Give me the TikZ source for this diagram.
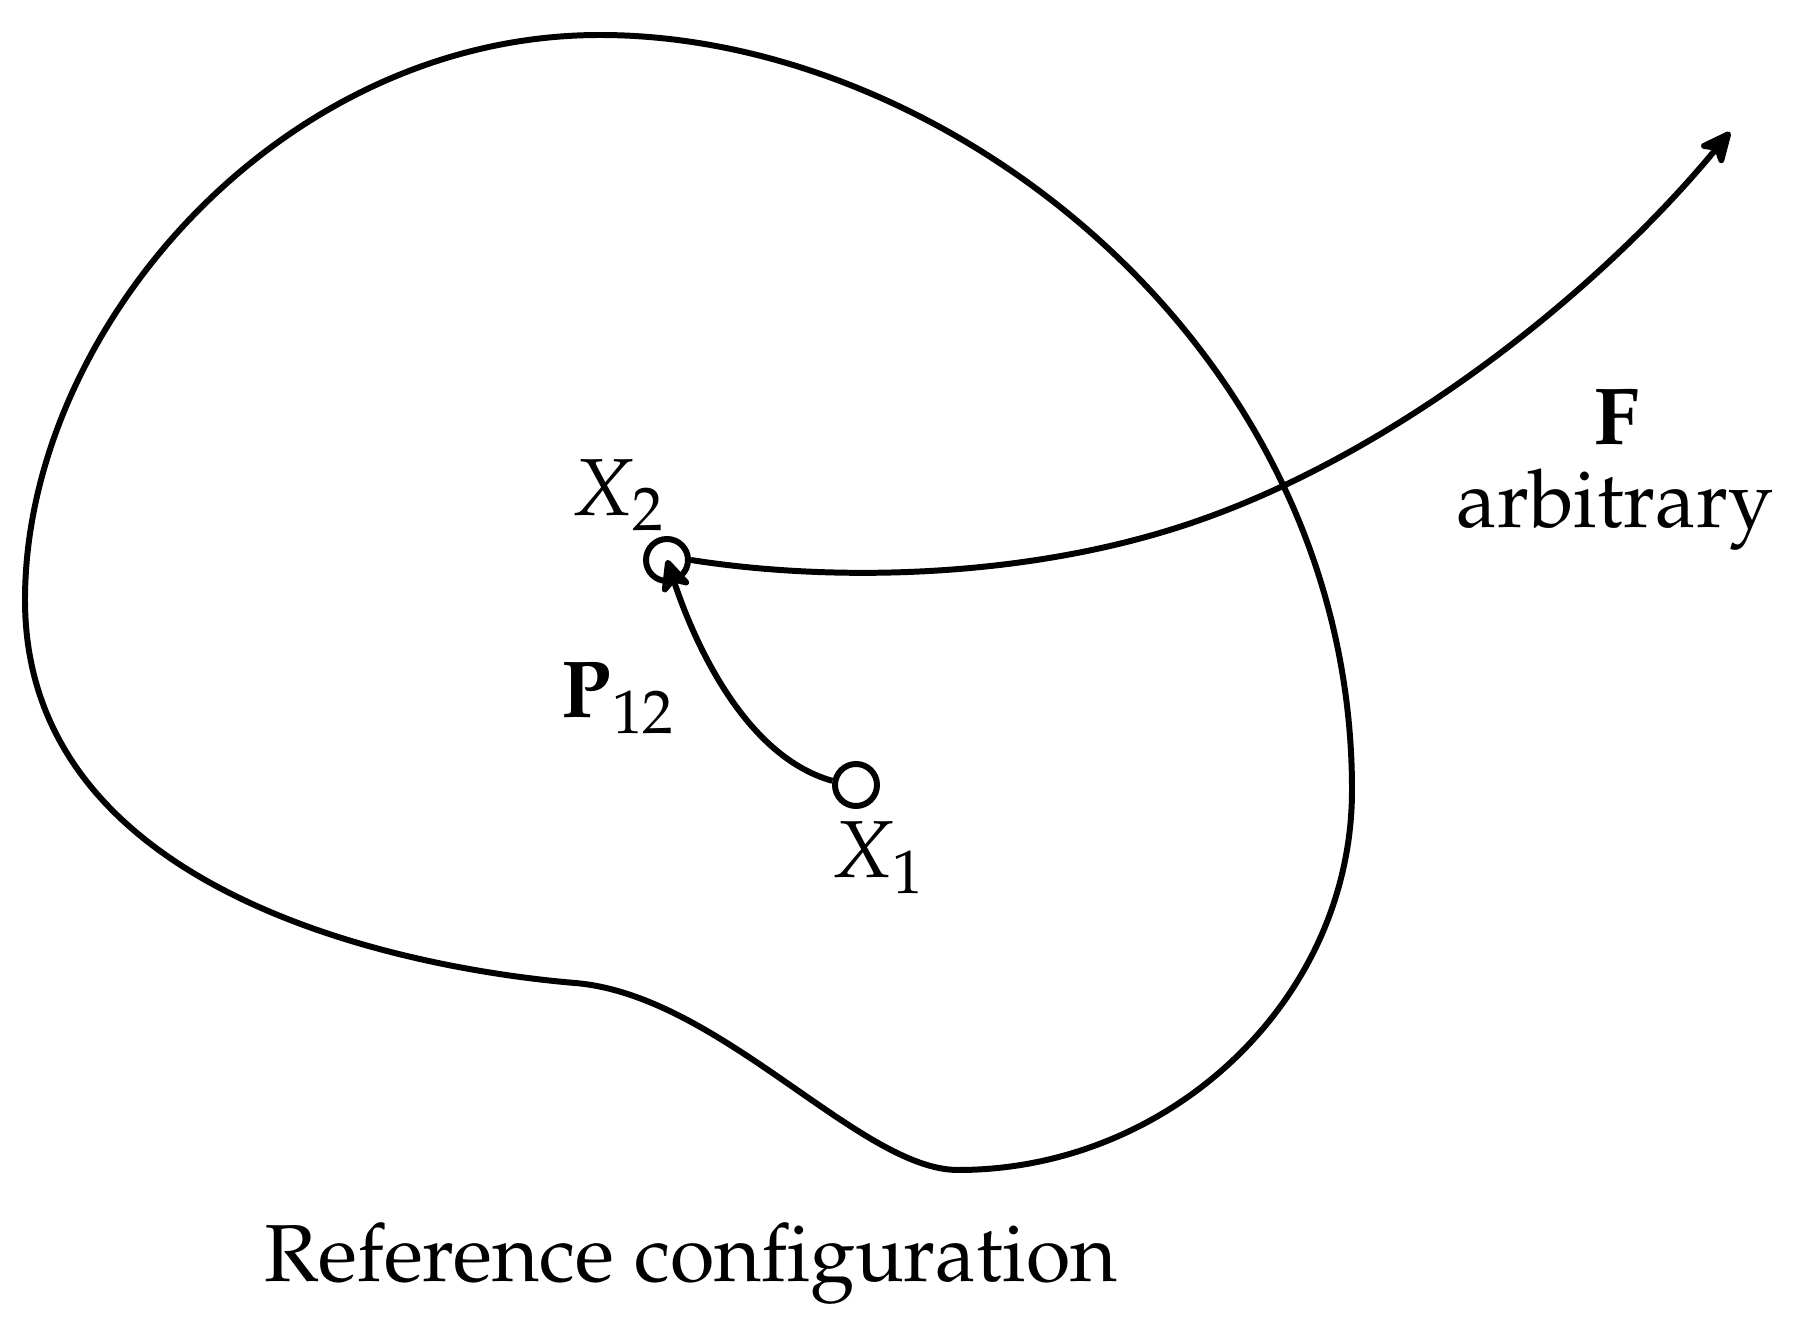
\documentclass[tikz,border=0pt]{standalone}
\usepackage[T1]{fontenc}
\usepackage{mathpazo}
\usepackage{tikz}
\usetikzlibrary{arrows.meta,positioning}

\begin{document}
\begin{tikzpicture}[x=0.01cm,y=-0.01cm,
  line width=1.7pt,
  pt/.style={circle,draw,line width=1.7pt,minimum size=0.42cm,inner sep=0pt},
  lbl/.style={font=\fontsize{23}{28}\selectfont,inner sep=0pt,anchor=base},
  arr/.style={-{Stealth[round,length=11pt,width=10pt,inset=3pt]}}]
\useasboundingbox (0,0) rectangle (1811,1325);
% body outline
\draw (25,600) .. controls (25,330) and (280,35) .. (600,35)
  .. controls (950,35) and (1352,350) .. (1352,790)
  .. controls (1352,1000) and (1170,1170) .. (958,1170)
  .. controls (860,1170) and (720,995) .. (575,983)
  .. controls (420,970) and (25,900) .. cycle;
% material points
\node[pt] (x2) at (667,560) {};
\node[pt] (x1) at (856,785) {};
\coordinate (fend) at (1730,132);
\draw[arr] (x1.170) .. controls (740,755) and (690,630) .. (x2.center);
\draw[arr] (x2.east) .. controls (830,582) and (1030,580) .. (1200,520)
  .. controls (1400,450) and (1600,290) .. (fend);
% labels
\node[lbl] (lx2) at (618,516) {$X_2$};
\node[lbl] (lp) at (618,718) {$\mathbf{P}_{12}$};
\node[lbl] (lx1) at (878,878) {$X_1$};
\node[lbl] (lf) at (1617,445) {$\mathbf{F}$};
\node[lbl] (larb) at (1615,528) {arbitrary};
\node[lbl] (lref) at (691,1282) {Reference configuration};
\end{tikzpicture}
\end{document}
